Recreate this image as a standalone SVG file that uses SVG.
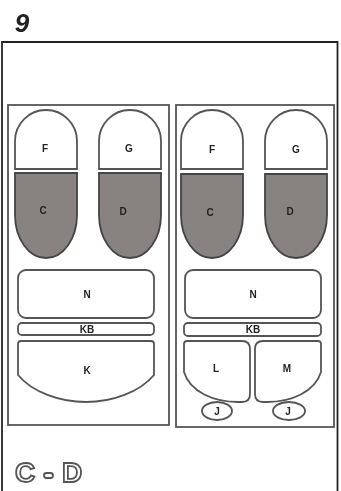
<svg xmlns="http://www.w3.org/2000/svg" width="341" height="491" viewBox="0 0 341 491">
<style>
.f{fill:none;stroke:#222;stroke-width:1.8}
.p{fill:none;stroke:#555;stroke-width:1.8}
.s{fill:#fff;stroke:#555;stroke-width:1.8}
.d{fill:#888380;stroke:#444;stroke-width:1.8}
.t{font-family:"Liberation Sans",Arial,sans-serif;font-size:10px;font-weight:bold;fill:#222;text-anchor:middle}
.o{font-family:"Liberation Sans",Arial,sans-serif;font-size:28px;font-weight:bold;fill:#fff;stroke:#555;stroke-width:1.8;text-anchor:middle}
</style>
<defs><filter id="b" x="-2%" y="-2%" width="104%" height="104%"><feGaussianBlur stdDeviation="0.55"/></filter></defs>
<rect width="341" height="491" fill="#fff"/>
<g filter="url(#b)">
<text id="title" x="22" y="32" style="font-family:'Liberation Sans',Arial,sans-serif;font-size:26px;font-weight:bold;font-style:italic;fill:#222;text-anchor:middle">9</text>
<g id="frame"><path class="f" d="M2 491V42H337.500V491"/></g>
<g id="panels"><rect id="panel-left" class="p" x="8" y="105" width="161" height="320"/><rect id="panel-right" class="p" x="176" y="105" width="158" height="322"/></g>
<g id="node-f1"><path class="s" d="M15 169V141A31 31 0 0 1 77 141V169Z"/><text class="t" x="45" y="152">F</text></g>
<g id="node-g1"><path class="s" d="M99 169V141A31 31 0 0 1 161 141V169Z"/><text class="t" x="129" y="152">G</text></g>
<g id="node-c1"><path class="d" d="M15 173H77V215A31 43 0 0 1 15 215Z"/><text class="t" x="43" y="214">C</text></g>
<g id="node-d1"><path class="d" d="M99 173H161V215A31 43 0 0 1 99 215Z"/><text class="t" x="123" y="215">D</text></g>
<g id="node-n1"><rect class="s" x="18" y="270" width="136" height="48" rx="8"/><text class="t" x="87" y="298">N</text></g>
<g id="node-kb1"><rect class="s" x="18" y="323" width="136" height="12" rx="4"/><text class="t" x="87" y="333">KB</text></g>
<g id="node-k"><path class="s" d="M18 344Q18 341 21 341H151Q154 341 154 344V375C140 392 112 402 86 402C60 402 32 392 18 375Z"/><text class="t" x="87" y="374">K</text></g>
<g id="node-f2"><path class="s" d="M181 169V141A31 31 0 0 1 243 141V169Z"/><text class="t" x="212" y="153">F</text></g>
<g id="node-g2"><path class="s" d="M265 169V141A31 31 0 0 1 327 141V169Z"/><text class="t" x="296" y="153">G</text></g>
<g id="node-c2"><path class="d" d="M181 174H243V215A31 43 0 0 1 181 215Z"/><text class="t" x="210" y="216">C</text></g>
<g id="node-d2"><path class="d" d="M265 174H327V215A31 43 0 0 1 265 215Z"/><text class="t" x="290" y="215">D</text></g>
<g id="node-n2"><rect class="s" x="185" y="270" width="136" height="48" rx="8"/><text class="t" x="253" y="298">N</text></g>
<g id="node-kb2"><rect class="s" x="184" y="323" width="137" height="13" rx="4"/><text class="t" x="253" y="333">KB</text></g>
<g id="node-l"><path class="s" d="M184 344Q184 341 187 341H242Q250 341 250 349V394Q250 402 242 402H238C214 402 190 392 184 372Z"/><text class="t" x="216" y="372">L</text></g>
<g id="node-m"><path class="s" d="M321 344Q321 341 318 341H263Q255 341 255 349V394Q255 402 263 402H267C291 402 315 392 321 372Z"/><text class="t" x="287" y="372">M</text></g>
<g id="node-j1"><ellipse class="s" cx="217" cy="411" rx="15" ry="9"/><text class="t" x="217" y="415">J</text></g>
<g id="node-j2"><ellipse class="s" cx="289" cy="411" rx="16" ry="9"/><text class="t" x="288" y="415">J</text></g>
<g id="legend"><text class="o" x="25" y="482">C</text><text class="o" x="72" y="482">D</text><rect class="s" x="44" y="473" width="9" height="5" rx="2.500"/></g>
</g>
</svg>
